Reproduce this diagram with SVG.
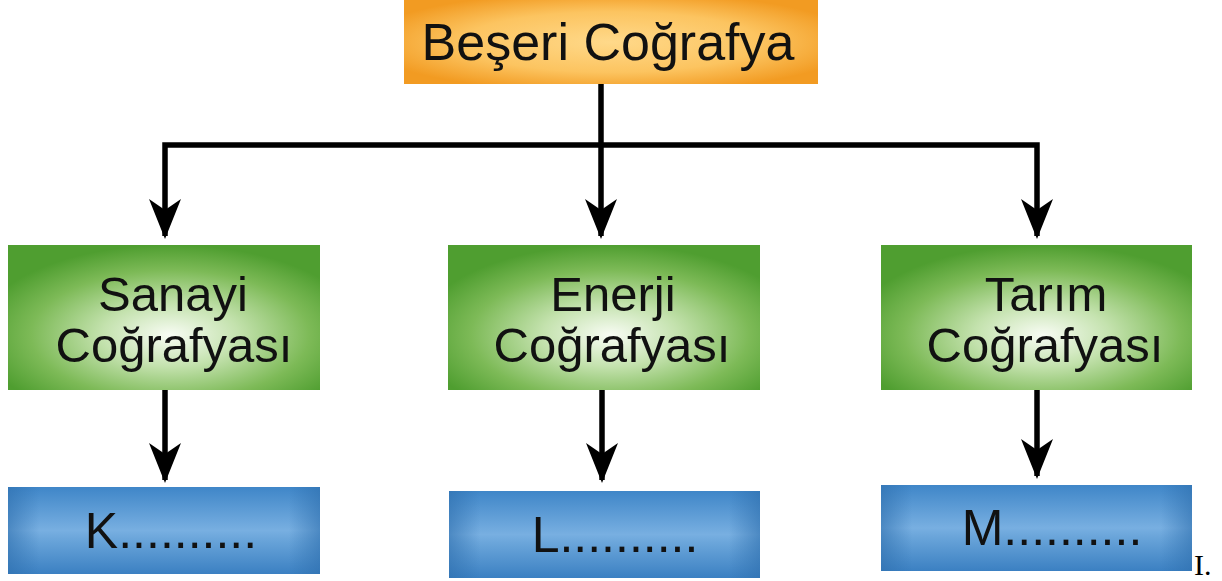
<svg xmlns="http://www.w3.org/2000/svg" width="1222" height="581" viewBox="0 0 1222 581">
<defs>
<radialGradient id="gOrange" cx="0.5" cy="0.5" r="0.6">
<stop offset="0" stop-color="#FFD98A"/>
<stop offset="0.6" stop-color="#FCC460"/>
<stop offset="1" stop-color="#F29B22"/>
</radialGradient>
<radialGradient id="gGreen" cx="0.52" cy="0.62" r="0.62">
<stop offset="0" stop-color="#F8FCF4"/>
<stop offset="0.35" stop-color="#C4E2AE"/>
<stop offset="0.72" stop-color="#7DBA57"/>
<stop offset="1" stop-color="#4F9E30"/>
</radialGradient>
<linearGradient id="gBlueV" x1="0" y1="0" x2="0" y2="1">
<stop offset="0" stop-color="#3F86C8"/>
<stop offset="0.5" stop-color="#78AFE1"/>
<stop offset="0.6" stop-color="#6AA5DA"/>
<stop offset="1" stop-color="#3B80C2"/>
</linearGradient>
<linearGradient id="gBlueH" x1="0" y1="0" x2="1" y2="0">
<stop offset="0" stop-color="#2E6FAE" stop-opacity="0.6"/>
<stop offset="0.1" stop-color="#2E6FAE" stop-opacity="0"/>
<stop offset="0.9" stop-color="#2E6FAE" stop-opacity="0"/>
<stop offset="1" stop-color="#2E6FAE" stop-opacity="0.6"/>
</linearGradient>
</defs>
<style>
.t{font-family:"Liberation Sans",Arial,sans-serif;fill:#111;text-anchor:middle}
.c{stroke:#000;stroke-width:5.5;fill:none}
</style>
<rect width="1222" height="581" fill="#fff"/>
<g id="connectors">
<path class="c" d="M601 84 V145"/>
<path class="c" d="M165 236 V145 H1037 V236"/>
<path class="c" d="M601 145 V236"/>
<path class="c" d="M165 390 V480"/>
<path class="c" d="M602 390 V480"/>
<path class="c" d="M1037 390 V476"/>
<g fill="#000">
<path d="M165 239 L149 199 L165 210 L181 199 Z"/>
<path d="M601 239 L585 199 L601 210 L617 199 Z"/>
<path d="M1037 239 L1021 199 L1037 210 L1053 199 Z"/>
<path d="M165 483 L149 443 L165 454 L181 443 Z"/>
<path d="M602 483 L586 443 L602 454 L618 443 Z"/>
<path d="M1037 479 L1021 439 L1037 450 L1053 439 Z"/>
</g>
</g>
<g id="n-beseri">
<rect x="404" y="0" width="414" height="84" fill="url(#gOrange)"/>
<text class="t" x="608" y="60" font-size="52">Beşeri Coğrafya</text>
</g>
<g id="n-sanayi">
<rect x="8" y="245" width="312" height="145" fill="url(#gGreen)"/>
<text class="t" x="173" y="311" font-size="49">Sanayi</text>
<text class="t" x="174" y="362" font-size="49">Coğrafyası</text>
</g>
<g id="n-enerji">
<rect x="448" y="245" width="312" height="145" fill="url(#gGreen)"/>
<text class="t" x="613" y="311" font-size="49">Enerji</text>
<text class="t" x="612" y="362" font-size="49">Coğrafyası</text>
</g>
<g id="n-tarim">
<rect x="881" y="245" width="311" height="145" fill="url(#gGreen)"/>
<text class="t" x="1046" y="311" font-size="49">Tarım</text>
<text class="t" x="1045" y="362" font-size="49">Coğrafyası</text>
</g>
<g id="n-k">
<rect x="8" y="487" width="312" height="87" fill="url(#gBlueV)"/>
<rect x="8" y="487" width="312" height="87" fill="url(#gBlueH)"/>
<text class="t" x="171" y="548" font-size="50">K..........</text>
</g>
<g id="n-l">
<rect x="449" y="491" width="311" height="87" fill="url(#gBlueV)"/>
<rect x="449" y="491" width="311" height="87" fill="url(#gBlueH)"/>
<text class="t" x="615" y="552" font-size="50">L..........</text>
</g>
<g id="n-m">
<rect x="881" y="485" width="311" height="86" fill="url(#gBlueV)"/>
<rect x="881" y="485" width="311" height="86" fill="url(#gBlueH)"/>
<text class="t" x="1052" y="545" font-size="50">M..........</text>
</g>
<text x="1194" y="575" font-family="Liberation Serif,'Times New Roman',serif" font-size="30" fill="#000">I.</text>
</svg>
